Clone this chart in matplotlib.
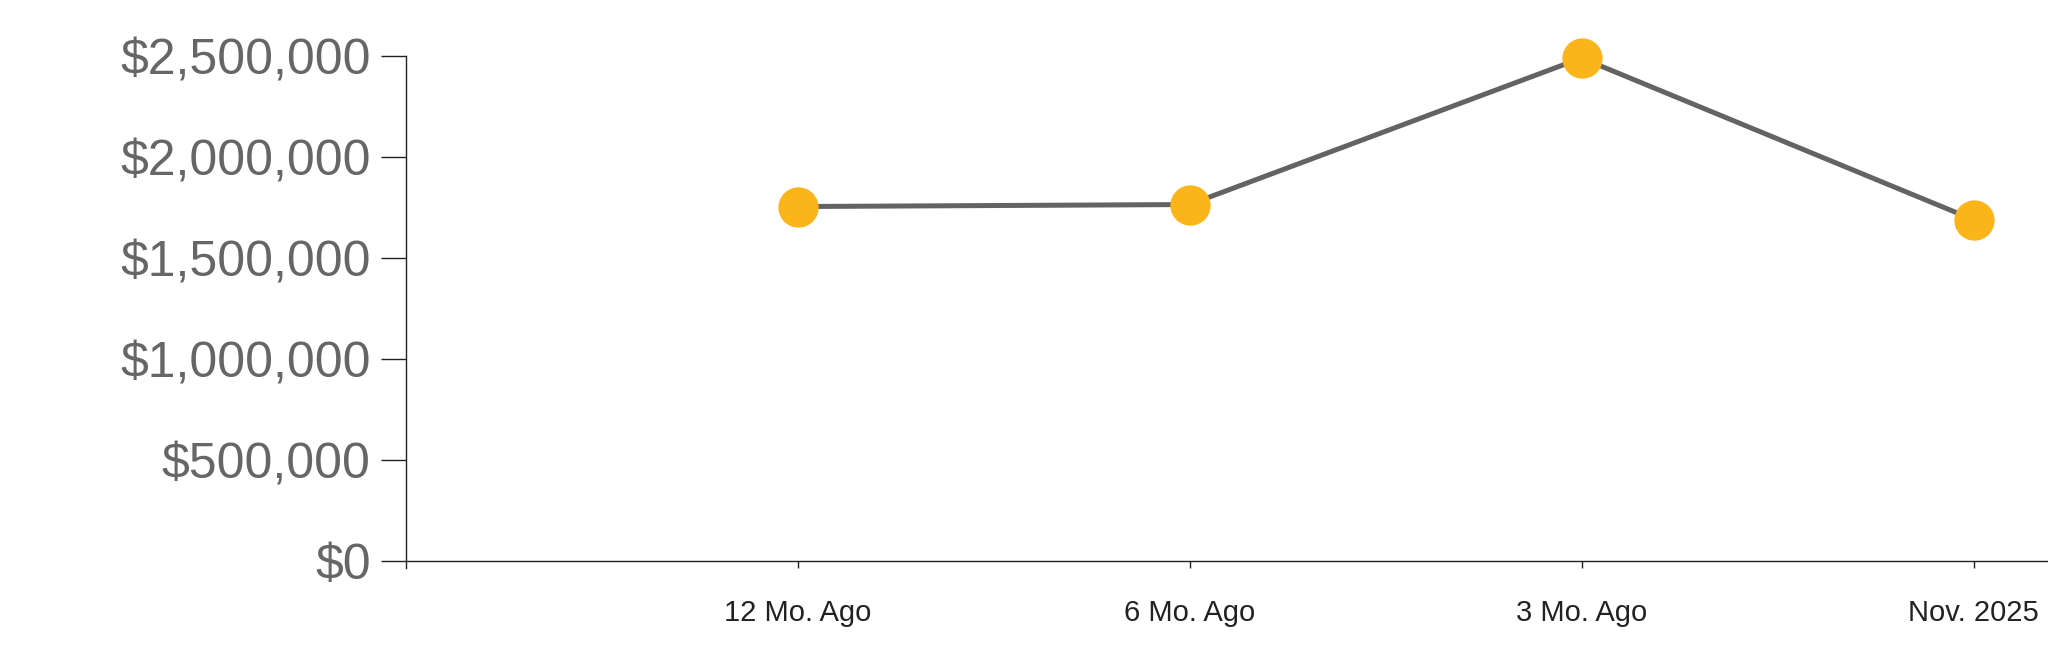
import matplotlib
matplotlib.use("Agg")
import matplotlib.pyplot as plt
from matplotlib.ticker import FuncFormatter

periods = ["12 Mo. Ago", "6 Mo. Ago", "3 Mo. Ago", "Nov. 2025"]
values = [1755000, 1765000, 2490000, 1690000]
yticks = [0, 500000, 1000000, 1500000, 2000000, 2500000]

plt.rcParams["font.family"] = ["Liberation Sans", "DejaVu Sans"]

fig = plt.figure(figsize=(20.48, 6.63), dpi=100)
ax = fig.add_axes([0.198, 0.143, 0.802, 0.7725])

xs = list(range(1, len(periods) + 1))
ax.plot(xs, values, color="#636363", lw=3.6, zorder=2, clip_on=False)
ax.plot(xs, values, ls="none", marker="o", ms=29, mfc="#FBB41A", mec="none",
        zorder=3, clip_on=False)

ax.set_xlim(0, 4.19)
ax.set_ylim(-35000, 2500000)
ax.spines["bottom"].set_position(("data", 0))
for s in ("top", "right"):
    ax.spines[s].set_visible(False)
for s in ("left", "bottom"):
    ax.spines[s].set_linewidth(1.0)
    ax.spines[s].set_color("#222222")

ax.set_xticks(xs)
ax.set_xticklabels(periods)
ax.set_yticks(yticks)
ax.yaxis.set_major_formatter(FuncFormatter(lambda v, p: f"${v:,.0f}"))
ax.tick_params(axis="y", length=18, width=1, pad=7, labelsize=36,
               labelcolor="#666666", color="#222222")
ax.tick_params(axis="x", length=5, width=1, pad=22, labelsize=21,
               labelcolor="#222222", color="#222222")

fig.savefig("out.png", dpi=100)
